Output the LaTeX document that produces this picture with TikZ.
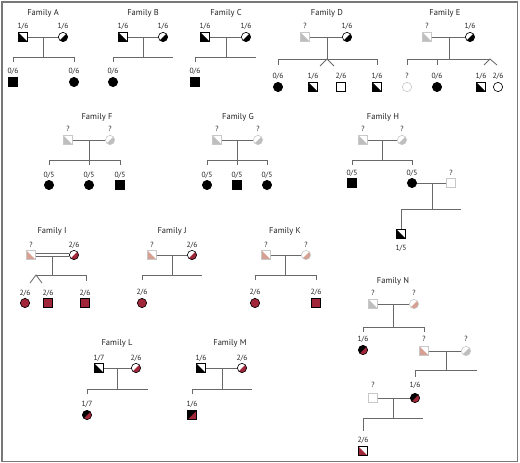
\documentclass[tikz,border=0pt]{standalone}
\usepackage{fontspec}
\setmainfont{PT Sans}
\definecolor{lineg}{RGB}{105,105,105}
\definecolor{lightl}{RGB}{200,200,200}
\definecolor{grayh}{RGB}{190,190,190}
\definecolor{pinkh}{RGB}{214,160,146}
\definecolor{redh}{RGB}{160,38,58}
\definecolor{framec}{RGB}{120,120,120}
\definecolor{txt}{RGB}{35,31,32}
\begin{document}
\begin{tikzpicture}[x=1pt,y=-1pt,
  conn/.style={draw=lineg,line width=0.85pt},
  sym/.style={minimum size=9.3pt,inner sep=0pt,outer sep=0pt,line width=0.6pt,draw=black},
  sq/.style={sym,rectangle},
  ci/.style={sym,circle},
  lt/.style={draw=lightl},
  fillLL/.style={path picture={\fill[#1] (path picture bounding box.north west) -- (path picture bounding box.south west) -- (path picture bounding box.south east) -- cycle;}},
  fillLR/.style={path picture={\fill[#1] (path picture bounding box.north east) -- (path picture bounding box.south east) -- (path picture bounding box.south west) -- cycle;}},
  fillUL/.style={path picture={\fill[#1] (path picture bounding box.north west) -- (path picture bounding box.north east) -- (path picture bounding box.south west) -- cycle;}},
  lab/.style={font=\fontsize{7.5}{8}\selectfont,text=txt,inner sep=0pt},
  ttl/.style={font=\fontsize{8.5}{9}\selectfont,text=txt,inner sep=0pt}]
\useasboundingbox (0,0) rectangle (520,463);
\draw[framec,line width=1.2pt] (2,2) rectangle (517.5,461.5);

% ---------- Family A
\node[ttl] (tA) at (43,13) {Family A};
\node[sq,fillLL=black] (fA) at (23,37) {};
\node[lab] (lfA) at (23,26) {1/6};
\node[ci,fillLR=black] (mA) at (63,37) {};
\node[lab] (lmA) at (63,26) {1/6};
\draw[conn] (fA) -- (mA);
\coordinate (dA) at (43,37); \coordinate (sA) at (43,57);
\coordinate (sA1) at (13,57); \coordinate (sA2) at (74,57);
\coordinate (tA1) at (13,62); \coordinate (tA2) at (74,62);
\draw[conn] (dA) -- (sA);
\draw[conn] (tA1) -- (sA1) -- (sA2) -- (tA2);
\node[sq,fill=black] (cA1) at (13,82) {};
\node[lab] (lcA1) at (13,71) {0/6};
\node[ci,fill=black] (cA2) at (74,82) {};
\node[lab] (lcA2) at (74,71) {0/6};

% ---------- Family B
\node[ttl] (tB) at (143,13) {Family B};
\node[sq,fillLL=black] (fB) at (123,37) {};
\node[lab] (lfB) at (123,26) {1/6};
\node[ci,fillLR=black] (mB) at (163,37) {};
\node[lab] (lmB) at (163,26) {1/6};
\draw[conn] (fB) -- (mB);
\coordinate (dB) at (143,37); \coordinate (sB) at (143,57);
\coordinate (sB1) at (113,57); \coordinate (sB2) at (173,57);
\coordinate (tB1) at (113,62);
\draw[conn] (dB) -- (sB);
\draw[conn] (tB1) -- (sB1) -- (sB2);
\node[ci,fill=black] (cB1) at (113,82) {};
\node[lab] (lcB1) at (113,71) {0/6};

% ---------- Family C
\node[ttl] (tC) at (226,13) {Family C};
\node[sq,fillLL=black] (fC) at (205,37) {};
\node[lab] (lfC) at (205,26) {1/6};
\node[ci,fillLR=black] (mC) at (246,37) {};
\node[lab] (lmC) at (246,26) {1/6};
\draw[conn] (fC) -- (mC);
\coordinate (dC) at (226,37); \coordinate (sC) at (226,57);
\coordinate (sC1) at (195,57); \coordinate (sC2) at (256,57);
\coordinate (tC1) at (195,62);
\draw[conn] (dC) -- (sC);
\draw[conn] (tC1) -- (sC1) -- (sC2);
\node[sq,fill=black] (cC1) at (195,82) {};
\node[lab] (lcC1) at (195,71) {0/6};

% ---------- Family D
\node[ttl] (tD) at (327,13) {Family D};
\node[sq,lt,fillLL=grayh] (fD) at (305,37) {};
\node[lab] (lfD) at (305,26) {?};
\node[ci,fillLR=black] (mD) at (347,37) {};
\node[lab] (lmD) at (347,26) {1/6};
\draw[conn] (fD) -- (mD);
\coordinate (dD) at (327,37); \coordinate (sD) at (327,59);
\coordinate (sD1) at (278,59); \coordinate (sD2) at (377,59);
\coordinate (tD1) at (278,65); \coordinate (tD2) at (377,65);
\coordinate (wD1) at (320,66); \coordinate (wD2) at (334,66);
\draw[conn] (dD) -- (sD);
\draw[conn] (tD1) -- (sD1) -- (sD2) -- (tD2);
\draw[conn] (wD1) -- (sD) -- (wD2);
\node[ci,fill=black] (cD1) at (278,87) {};
\node[lab] (lcD1) at (278,76) {0/6};
\node[sq,fillLL=black] (cD2) at (313,87) {};
\node[lab] (lcD2) at (313,76) {1/6};
\node[sq] (cD3) at (341,87) {};
\node[lab] (lcD3) at (341,76) {2/6};
\node[sq,fillLL=black] (cD4) at (377,87) {};
\node[lab] (lcD4) at (377,76) {1/6};

% ---------- Family E
\node[ttl] (tE) at (445,13) {Family E};
\node[sq,lt,fillLL=grayh] (fE) at (427,37) {};
\node[lab] (lfE) at (427,26) {?};
\node[ci,fillLR=black] (mE) at (470,37) {};
\node[lab] (lmE) at (470,26) {1/6};
\draw[conn] (fE) -- (mE);
\coordinate (dE) at (449,37); \coordinate (sE) at (449,59);
\coordinate (sE1) at (407,59); \coordinate (sE2) at (490,59);
\coordinate (tE1) at (407,65); \coordinate (tE2) at (437,65); \coordinate (sE3) at (437,59);
\coordinate (wE1) at (484,65); \coordinate (wE2) at (497,65);
\draw[conn] (dE) -- (sE);
\draw[conn] (tE1) -- (sE1) -- (sE2);
\draw[conn] (sE3) -- (tE2);
\draw[conn] (wE1) -- (sE2) -- (wE2);
\node[ci,lt] (cE1) at (407,87) {};
\node[lab] (lcE1) at (407,76) {?};
\node[ci,fill=black] (cE2) at (437,87) {};
\node[lab] (lcE2) at (437,76) {0/6};
\node[sq,fillLL=black] (cE3) at (481,87) {};
\node[lab] (lcE3) at (481,76) {1/6};
\node[ci] (cE4) at (498,87) {};
\node[lab] (lcE4) at (498,76) {2/6};

% ---------- Family F
\node[ttl] (tF) at (97,117) {Family F};
\node[sq,lt,fillLL=grayh] (fF) at (68,140) {};
\node[lab] (lfF) at (68,129) {?};
\node[ci,lt,fillLR=grayh] (mF) at (110,140) {};
\node[lab] (lmF) at (110,129) {?};
\draw[conn] (fF) -- (mF);
\coordinate (dF) at (89,140); \coordinate (sF) at (89,160);
\coordinate (sF1) at (49,160); \coordinate (sF2) at (120,160);
\coordinate (tF1) at (49,165); \coordinate (tF2) at (120,165); \coordinate (tF3) at (89,165);
\draw[conn] (dF) -- (tF3);
\draw[conn] (tF1) -- (sF1) -- (sF2) -- (tF2);
\node[ci,fill=black] (cF1) at (49,185) {};
\node[lab] (lcF1) at (49,175) {0/5};
\node[ci,fill=black] (cF2) at (89,185) {};
\node[lab] (lcF2) at (89,175) {0/5};
\node[sq,fill=black] (cF3) at (120,185) {};
\node[lab] (lcF3) at (120,175) {0/5};

% ---------- Family G
\node[ttl] (tG) at (238,117) {Family G};
\node[sq,lt,fillLL=grayh] (fG) at (217,140) {};
\node[lab] (lfG) at (217,129) {?};
\node[ci,lt,fillLR=grayh] (mG) at (258,140) {};
\node[lab] (lmG) at (258,129) {?};
\draw[conn] (fG) -- (mG);
\coordinate (dG) at (237,140); \coordinate (sG) at (237,160);
\coordinate (sG1) at (207,160); \coordinate (sG2) at (267,160);
\coordinate (tG1) at (207,165); \coordinate (tG2) at (267,165); \coordinate (tG3) at (237,165);
\draw[conn] (dG) -- (tG3);
\draw[conn] (tG1) -- (sG1) -- (sG2) -- (tG2);
\node[ci,fill=black] (cG1) at (207,185) {};
\node[lab] (lcG1) at (207,175) {0/5};
\node[sq,fill=black] (cG2) at (237,185) {};
\node[lab] (lcG2) at (237,175) {0/5};
\node[ci,fill=black] (cG3) at (267,185) {};
\node[lab] (lcG3) at (267,175) {0/5};

% ---------- Family H
\node[ttl] (tH) at (383,117) {Family H};
\node[sq,lt,fillLL=grayh] (fH) at (363,140) {};
\node[lab] (lfH) at (363,129) {?};
\node[ci,lt,fillLR=grayh] (mH) at (402,140) {};
\node[lab] (lmH) at (402,129) {?};
\draw[conn] (fH) -- (mH);
\coordinate (dH) at (382,140); \coordinate (sH) at (382,160);
\coordinate (sH1) at (352,160); \coordinate (sH2) at (412,160);
\coordinate (tH1) at (352,165); \coordinate (tH2) at (412,165);
\draw[conn] (dH) -- (sH);
\draw[conn] (tH1) -- (sH1) -- (sH2) -- (tH2);
\node[sq,fill=black] (cH1) at (352,183) {};
\node[lab] (lcH1) at (352,173) {0/5};
\node[ci,fill=black] (cH2) at (412,183) {};
\node[lab] (lcH2) at (412,173) {0/5};
\node[sq,lt] (pH) at (451,183) {};
\node[lab] (lpH) at (451,173) {?};
\draw[conn] (cH2) -- (pH);
\coordinate (dH2) at (432,183); \coordinate (sH3) at (432,209);
\coordinate (sH4) at (401,209); \coordinate (sH5) at (461,209);
\draw[conn] (dH2) -- (sH3);
\draw[conn] (sH5) -- (sH4);
\node[sq,fillLL=black] (gH) at (401,234) {};
\node[lab] (lgH) at (401,248) {1/5};
\draw[conn] (sH4) -- (gH);

% ---------- Family I
\node[ttl] (tI) at (52,231) {Family I};
\node[sq,lt,fillLL=pinkh] (fI) at (31,255) {};
\node[lab] (lfI) at (31,245) {?};
\node[ci,fillLR=redh] (mI) at (74,255) {};
\node[lab] (lmI) at (74,245) {2/6};
\draw[conn,double=white,double distance=2.2pt,line width=0.7pt] (fI) -- (mI);
\coordinate (dI) at (52,256.5); \coordinate (sI) at (52,275);
\coordinate (sI1) at (36,275); \coordinate (sI2) at (86,275);
\coordinate (tI2) at (86,281);
\coordinate (wI1) at (30,283); \coordinate (wI2) at (42,283);
\draw[conn] (dI) -- (sI);
\draw[conn] (sI1) -- (sI2) -- (tI2);
\draw[conn] (wI1) -- (sI1) -- (wI2);
\node[ci,fill=redh] (cI1) at (25,303) {};
\node[lab] (lcI1) at (25,293) {2/6};
\node[sq,fill=redh] (cI2) at (48,303) {};
\node[lab] (lcI2) at (48,293) {2/6};
\node[sq,fill=redh] (cI3) at (85,303) {};
\node[lab] (lcI3) at (85,293) {2/6};

% ---------- Family J
\node[ttl] (tJ) at (172,231) {Family J};
\node[sq,lt,fillLL=pinkh] (fJ) at (152,255) {};
\node[lab] (lfJ) at (152,245) {?};
\node[ci,fillLR=redh] (mJ) at (192,255) {};
\node[lab] (lmJ) at (192,245) {2/6};
\draw[conn] (fJ) -- (mJ);
\coordinate (dJ) at (172,255); \coordinate (sJ) at (172,275);
\coordinate (sJ1) at (142,275); \coordinate (sJ2) at (202,275);
\coordinate (tJ1) at (142,280);
\draw[conn] (dJ) -- (sJ);
\draw[conn] (tJ1) -- (sJ1) -- (sJ2);
\node[ci,fill=redh] (cJ1) at (142,303) {};
\node[lab] (lcJ1) at (142,292) {2/6};

% ---------- Family K
\node[ttl] (tK) at (285,231) {Family K};
\node[sq,lt,fillLL=pinkh] (fK) at (266,255) {};
\node[lab] (lfK) at (266,245) {?};
\node[ci,lt,fillLR=pinkh] (mK) at (306,255) {};
\node[lab] (lmK) at (306,245) {?};
\draw[conn] (fK) -- (mK);
\coordinate (dK) at (285,255); \coordinate (sK) at (285,275);
\coordinate (sK1) at (255,275); \coordinate (sK2) at (316,275);
\coordinate (tK1) at (255,280); \coordinate (tK2) at (316,280);
\draw[conn] (dK) -- (sK);
\draw[conn] (tK1) -- (sK1) -- (sK2) -- (tK2);
\node[ci,fill=redh] (cK1) at (255,303) {};
\node[lab] (lcK1) at (255,292) {2/6};
\node[sq,fill=redh] (cK2) at (316,303) {};
\node[lab] (lcK2) at (316,292) {2/6};

% ---------- Family L
\node[ttl] (tL) at (117,343) {Family L};
\node[sq,fillLL=black] (fL) at (99,368) {};
\node[lab] (lfL) at (99,358) {1/7};
\node[ci,fillLR=redh] (mL) at (136,368) {};
\node[lab] (lmL) at (136,358) {2/6};
\draw[conn] (fL) -- (mL);
\coordinate (dL) at (117,368); \coordinate (sL) at (117,389);
\coordinate (sL1) at (87,389); \coordinate (sL2) at (148,389);
\coordinate (tL1) at (87,394);
\draw[conn] (dL) -- (sL);
\draw[conn] (tL1) -- (sL1) -- (sL2);
\node[ci,fill=redh,fillUL=black] (cL1) at (87,415) {};
\node[lab] (lcL1) at (87,404) {1/7};

% ---------- Family M
\node[ttl] (tM) at (230,343) {Family M};
\node[sq,fillLL=black] (fM) at (201,368) {};
\node[lab] (lfM) at (201,358) {1/6};
\node[ci,fillLR=redh] (mM) at (242,368) {};
\node[lab] (lmM) at (242,358) {2/6};
\draw[conn] (fM) -- (mM);
\coordinate (dM) at (222,368); \coordinate (sM) at (222,389);
\coordinate (sM1) at (192,389); \coordinate (sM2) at (252,389);
\coordinate (tM1) at (192,394);
\draw[conn] (dM) -- (sM);
\draw[conn] (tM1) -- (sM1) -- (sM2);
\node[sq,fill=redh,fillUL=black] (cM1) at (192,415) {};
\node[lab] (lcM1) at (192,404) {1/6};

% ---------- Family N
\node[ttl] (tN) at (393,281) {Family N};
\node[sq,lt,fillLL=grayh] (fN) at (373,304) {};
\node[lab] (lfN) at (373,293) {?};
\node[ci,lt,fillLR=pinkh] (mN) at (414,304) {};
\node[lab] (lmN) at (414,293) {?};
\draw[conn] (fN) -- (mN);
\coordinate (dN) at (393,304); \coordinate (sN) at (393,327);
\coordinate (sN1) at (363,327); \coordinate (sN2) at (424,327);
\coordinate (tN1) at (363,332); \coordinate (tN2) at (424,332);
\draw[conn] (dN) -- (sN);
\draw[conn] (tN1) -- (sN1) -- (sN2) -- (tN2);
\node[ci,fill=redh,fillUL=black] (cN1) at (363,350) {};
\node[lab] (lcN1) at (363,339) {1/6};
\node[sq,lt,fillLL=pinkh] (cN2) at (424,351) {};
\node[lab] (lcN2) at (424,339) {?};
\node[ci,lt,fillLR=grayh] (pN) at (466,351) {};
\node[lab] (lpN) at (466,339) {?};
\draw[conn] (cN2) -- (pN);
\coordinate (dN2) at (446,351); \coordinate (sN3) at (446,370);
\coordinate (sN4) at (415,370); \coordinate (sN5) at (477,370);
\coordinate (tN4) at (415,377);
\draw[conn] (dN2) -- (sN3);
\draw[conn] (tN4) -- (sN4) -- (sN5);
\node[sq,lt] (gN1) at (373,398) {};
\node[lab] (lgN1) at (373,385) {?};
\node[ci,fill=redh,fillUL=black] (gN2) at (415,398) {};
\node[lab] (lgN2) at (415,385) {1/6};
\draw[conn] (gN1) -- (gN2);
\coordinate (dN3) at (393,398); \coordinate (sN6) at (393,418);
\coordinate (sN7) at (363,418); \coordinate (sN8) at (423,418);
\coordinate (tN7) at (363,431);
\draw[conn] (dN3) -- (sN6);
\draw[conn] (tN7) -- (sN7) -- (sN8);
\node[sq,fillLL=redh] (hN) at (363,451) {};
\node[lab] (lhN) at (363,440) {2/6};
\end{tikzpicture}
\end{document}
